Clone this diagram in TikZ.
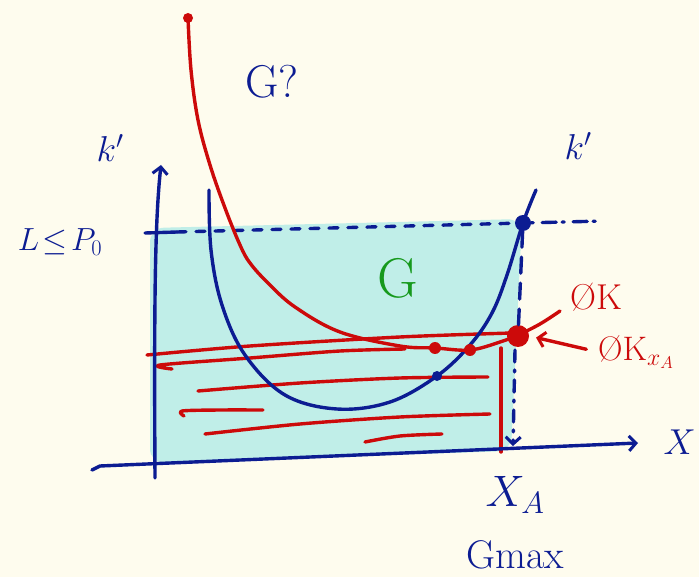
\RequirePackage{fix-cm}
\documentclass[tikz,border=0pt]{standalone}
\usetikzlibrary{arrows.meta}
\definecolor{bgc}{HTML}{FEFCEE}
\definecolor{myblue}{HTML}{0C1C92}
\definecolor{myred}{HTML}{CC0A0A}
\definecolor{mygreen}{HTML}{16991C}
\definecolor{mycyan}{HTML}{C0EEE8}
\begin{document}
\begin{tikzpicture}[x=1pt,y=-1pt,
  blueln/.style={draw=myblue, line width=3.4pt, line cap=round, line join=round},
  redln/.style={draw=myred, line width=3.4pt, line cap=round, line join=round},
  barb/.style={-{Straight Barb[length=7pt,width=15pt,line width=3pt]}},
  bdot/.style={circle, fill=myblue, inner sep=0pt, minimum size=#1},
  rdot/.style={circle, fill=myred, inner sep=0pt, minimum size=#1},
  bl/.style={text=myblue, inner sep=0pt},
  rl/.style={text=myred, inner sep=0pt}]
\fill[bgc] (0,0) rectangle (699,577);
\useasboundingbox (0,0) rectangle (699,577);
\clip (0,0) rectangle (699,577);
% shaded region
\fill[mycyan, rounded corners=14pt] (150,228) -- (522,219) -- (511,451) -- (150,463) -- cycle;
% red hatching
\draw[redln] plot[smooth] coordinates {(147,355) (250,346) (400,337) (512,333)};
\draw[redln] plot[smooth] coordinates {(172,369) (160,365) (250,358) (340,351) (405,349)};
\draw[redln] plot[smooth] coordinates {(198,391) (300,383) (400,378) (488,377)};
\draw[redln] plot[smooth] coordinates {(184,416) (182,411) (220,410) (263,410)};
\draw[redln] plot[smooth] coordinates {(205,434) (300,424) (400,417) (490,414)};
\draw[redln] plot[smooth] coordinates {(365,442) (400,436) (442,434)};
\draw[redln] (501,348) -- (501,452);
% axes
\draw[blueln, barb] (155,478) .. controls (154,300) and (155,220) .. (161,165) coordinate (ytop);
\draw[blueln, barb] (92,470) -- (100,466) -- (638,443) coordinate (xend);
% level line
\coordinate (tl) at (145,233);
\coordinate (tr) at (177,232);
\draw[blueln] (tl) -- (tr);
\node[bdot=16pt] (pA) at (523,223) {};
\draw[blueln, dash pattern=on 9pt off 10pt] (tr) -- (pA);
\coordinate (ext) at (604,221);
\draw[blueln, dash pattern=on 2pt off 9pt on 14pt off 6pt] (pA) -- (ext);
% blue U curve (k')
\draw[blueln] plot[smooth, tension=0.6] coordinates {(209,190) (211,250) (222,305) (245,355) (285,395) (337,409) (390,402) (437,376) (470,345) (492,313) (507,275) (523,223) (536,190)};
% red curve
\draw[redln] plot[smooth, tension=0.6] coordinates {(188,18) (191,70) (198,120) (210,165) (225,208) (240,245) (250,263) (268,283) (295,307) (340,332) (400,346) (435,348) (470,350) (500,342) (518,335) (540,324) (560,311)};
\node[rdot=10pt] (p0) at (188,18) {};
\node[rdot=22pt] (pB) at (518,336) {};
\node[rdot=12pt] (pC) at (435,348) {};
\node[rdot=12pt] (pD) at (470,350) {};
\node[bdot=10pt] (pE) at (437,376) {};
% vertical dashed lines
\draw[blueln, dash pattern=on 16pt off 10pt] (pA) -- (pB);
\coordinate (xA) at (513,446);
\draw[blueln, dash pattern=on 12pt off 8pt on 2pt off 8pt, barb] (515,350) -- (xA);
% labels
\node[bl, font=\fontsize{36}{36}\selectfont] (kl) at (110,148) {$k'$};
\node[bl, font=\fontsize{36}{36}\selectfont] (kr) at (578,146) {$k'$};
\node[bl, font=\fontsize{32}{32}\selectfont] (lp) at (60,242) {$L\!\leq\! P_0$};
\node[bl, font=\fontsize{46}{46}\selectfont] (gq) at (272,82) {G?};
\node[text=mygreen, inner sep=0pt, font=\fontsize{56}{56}\selectfont] (g) at (398,278) {G};
\node[rl, font=\fontsize{36}{36}\selectfont] (ok) at (596,297) {ØK};
\node[rl, font=\fontsize{34}{34}\selectfont, anchor=west] (okx) at (598,352) {ØK$_{x_A}$};
\draw[redln, barb, shorten >=7pt, shorten <=12pt] (okx.west) -- (pB.east);
\node[bl, font=\fontsize{36}{36}\selectfont, anchor=east] (xl) at (696,442) {$X$};
\node[bl, font=\fontsize{44}{44}\selectfont] (xa) at (515,495) {$X_A$};
\node[bl, font=\fontsize{40}{40}\selectfont] (gm) at (515,555) {Gmax};
\end{tikzpicture}
\end{document}
